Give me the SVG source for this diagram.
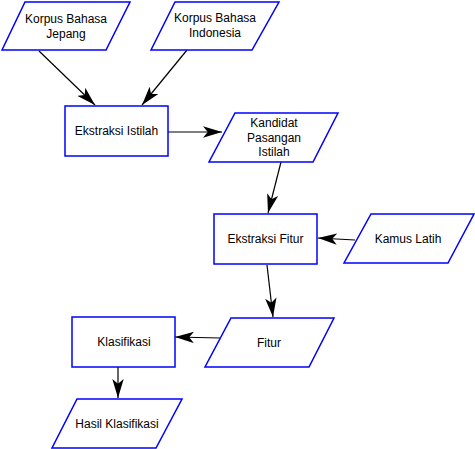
<svg xmlns="http://www.w3.org/2000/svg" width="475" height="449" viewBox="0 0 475 449">
<style>
.n{fill:#fff;stroke:#0000ff;stroke-width:1.5}
.t{font-family:"Liberation Sans",Arial,sans-serif;font-size:12px;fill:#000;text-anchor:middle}
.c{fill:none;stroke:#000;stroke-width:1.2}
</style>
<defs>
<marker id="a" viewBox="0 0 20 12" refX="20" refY="6" markerWidth="19" markerHeight="12" markerUnits="userSpaceOnUse" orient="auto">
<path d="M0,0 L20,6 L0,12 L5,6 Z" fill="#000"/>
</marker>
</defs>
<rect width="475" height="449" fill="#fff"/>
<g id="connectors">
<line class="c" x1="39" y1="51" x2="95" y2="105" marker-end="url(#a)"/>
<line class="c" x1="187" y1="50" x2="142" y2="105" marker-end="url(#a)"/>
<line class="c" x1="168" y1="132" x2="222" y2="132" marker-end="url(#a)"/>
<line class="c" x1="281" y1="162" x2="268" y2="213" marker-end="url(#a)"/>
<line class="c" x1="355" y1="240" x2="318" y2="238" marker-end="url(#a)"/>
<line class="c" x1="267" y1="265" x2="273" y2="317" marker-end="url(#a)"/>
<line class="c" x1="220" y1="338" x2="175" y2="337" marker-end="url(#a)"/>
<line class="c" x1="118" y1="367" x2="118" y2="398" marker-end="url(#a)"/>
</g>
<g id="korpus-jepang">
<polygon class="n" points="25,2 130,2 106,50 2,50"/>
<text class="t" x="66" y="23">Korpus Bahasa</text>
<text class="t" x="66" y="38">Jepang</text>
</g>
<g id="korpus-indonesia">
<polygon class="n" points="175,2 279,2 252,50 151,50"/>
<text class="t" x="215" y="22">Korpus Bahasa</text>
<text class="t" x="215" y="37">Indonesia</text>
</g>
<g id="ekstraksi-istilah">
<rect class="n" x="65" y="106" width="103" height="50"/>
<text class="t" x="116.5" y="135">Ekstraksi Istilah</text>
</g>
<g id="kandidat">
<polygon class="n" points="235,113 338,113 313,162 209,162"/>
<text class="t" x="274" y="127">Kandidat</text>
<text class="t" x="274" y="142">Pasangan</text>
<text class="t" x="274" y="156">Istilah</text>
</g>
<g id="ekstraksi-fitur">
<rect class="n" x="214" y="214" width="103" height="50"/>
<text class="t" x="265.5" y="243">Ekstraksi Fitur</text>
</g>
<g id="kamus-latih">
<polygon class="n" points="371,214 474,214 448,263 344,263"/>
<text class="t" x="408" y="243">Kamus Latih</text>
</g>
<g id="fitur">
<polygon class="n" points="231,318 334,318 309,367 205,367"/>
<text class="t" x="269" y="347">Fitur</text>
</g>
<g id="klasifikasi">
<rect class="n" x="72" y="317" width="103" height="50"/>
<text class="t" x="124" y="346">Klasifikasi</text>
</g>
<g id="hasil-klasifikasi">
<polygon class="n" points="77,399 182,399 156,448 52,448"/>
<text class="t" x="117" y="428">Hasil Klasifikasi</text>
</g>
</svg>
